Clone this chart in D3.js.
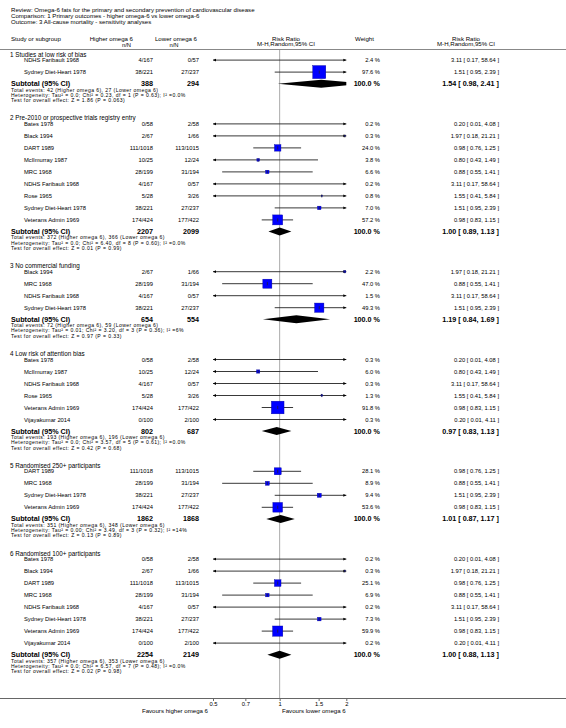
<!DOCTYPE html>
<html><head><meta charset="utf-8">
<script src="https://cdn.jsdelivr.net/npm/d3@7"></script>
<style>html,body{margin:0;padding:0;background:#fff}svg{display:block;font-family:"Liberation Sans",Arial,sans-serif}</style>
</head><body>
<svg id="c" width="566" height="728"></svg>
<script>
// ---------- data ----------
const titleLines = [
  "Review:  Omega-6 fats for the primary and secondary prevention of cardiovascular disease",
  "Comparison:  1 Primary outcomes - higher omega-6 vs lower omega-6",
  "Outcome:  3 All-cause mortality - sensitivity analyses"
];
const groupTitles = [
  "1 Studies at low risk of bias",
  "2 Pre-2010 or prospective trials registry entry",
  "3 No commercial funding",
  "4 Low risk of attention bias",
  "5 Randomised 250+ participants",
  "6 Randomised 100+ participants"
];
const studyGroup = [0,0, 1,1,1,1,1,1,1,1,1, 2,2,2,2, 3,3,3,3,3,3, 4,4,4,4, 5,5,5,5,5,5,5,5];
const studyName = [
  "NDHS Faribault 1968","Sydney Diet-Heart 1978",
  "Bates 1978","Black 1994","DART 1989","McIlmurray 1987","MRC 1968","NDHS Faribault 1968","Rose 1965","Sydney Diet-Heart 1978","Veterans Admin 1969",
  "Black 1994","MRC 1968","NDHS Faribault 1968","Sydney Diet-Heart 1978",
  "Bates 1978","McIlmurray 1987","NDHS Faribault 1968","Rose 1965","Veterans Admin 1969","Vijayakumar 2014",
  "DART 1989","MRC 1968","Sydney Diet-Heart 1978","Veterans Admin 1969",
  "Bates 1978","Black 1994","DART 1989","MRC 1968","NDHS Faribault 1968","Sydney Diet-Heart 1978","Veterans Admin 1969","Vijayakumar 2014"
];
const highNN = ["4/167","38/221", "0/58","2/67","111/1018","10/25","28/199","4/167","5/28","38/221","174/424",
  "2/67","28/199","4/167","38/221", "0/58","10/25","4/167","5/28","174/424","0/100",
  "111/1018","28/199","38/221","174/424", "0/58","2/67","111/1018","28/199","4/167","38/221","174/424","0/100"];
const lowNN = ["0/57","27/237", "2/58","1/66","113/1015","12/24","31/194","0/57","3/26","27/237","177/422",
  "1/66","31/194","0/57","27/237", "2/58","12/24","0/57","3/26","177/422","2/100",
  "113/1015","31/194","27/237","177/422", "2/58","1/66","113/1015","31/194","0/57","27/237","177/422","2/100"];
const weight = [2.4,97.6, 0.2,0.3,24.0,3.8,6.6,0.2,0.8,7.0,57.2, 2.2,47.0,1.5,49.3, 0.3,6.0,0.3,1.3,91.8,0.3,
  28.1,8.9,9.4,53.6, 0.2,0.3,25.1,6.9,0.2,7.3,59.9,0.2];
const rr = [3.11,1.51, 0.20,1.97,0.98,0.80,0.88,3.11,1.55,1.51,0.98, 1.97,0.88,3.11,1.51, 0.20,0.80,3.11,1.55,0.98,0.20,
  0.98,0.88,1.51,0.98, 0.20,1.97,0.98,0.88,3.11,1.51,0.98,0.20];
const ciLow = [0.17,0.95, 0.01,0.18,0.76,0.43,0.55,0.17,0.41,0.95,0.83, 0.18,0.55,0.17,0.95, 0.01,0.43,0.17,0.41,0.83,0.01,
  0.76,0.55,0.95,0.83, 0.01,0.18,0.76,0.55,0.17,0.95,0.83,0.01];
const ciHigh = [58.64,2.39, 4.08,21.21,1.25,1.49,1.41,58.64,5.84,2.39,1.15, 21.21,1.41,58.64,2.39, 4.08,1.49,58.64,5.84,1.15,4.11,
  1.25,1.41,2.39,1.15, 4.08,21.21,1.25,1.41,58.64,2.39,1.15,4.11];
const subHighN = [388,2207,654,802,1862,2254];
const subLowN = [294,2099,554,687,1868,2149];
const subRR = [1.54,1.00,1.19,0.97,1.01,1.00];
const subLow = [0.98,0.89,0.84,0.83,0.87,0.88];
const subHigh = [2.41,1.13,1.69,1.13,1.17,1.13];
const totalEvents = [
  "Total events: 42 (Higher omega 6), 27 (Lower omega 6)",
  "Total events: 372 (Higher omega 6), 366 (Lower omega 6)",
  "Total events: 72 (Higher omega 6), 59 (Lower omega 6)",
  "Total events: 193 (Higher omega 6), 196 (Lower omega 6)",
  "Total events: 351 (Higher omega 6), 348 (Lower omega 6)",
  "Total events: 357 (Higher omega 6), 353 (Lower omega 6)"
];
const heterogeneity = [
  "Heterogeneity: Tau² = 0.0; Chi² = 0.23, df = 1 (P = 0.63); I² =0.0%",
  "Heterogeneity: Tau² = 0.0; Chi² = 6.40, df = 8 (P = 0.60); I² =0.0%",
  "Heterogeneity: Tau² = 0.01; Chi² = 3.20, df = 3 (P = 0.36); I² =6%",
  "Heterogeneity: Tau² = 0.0; Chi² = 3.57, df = 5 (P = 0.61); I² =0.0%",
  "Heterogeneity: Tau² = 0.00; Chi² = 3.49, df = 3 (P = 0.32); I² =14%",
  "Heterogeneity: Tau² = 0.0; Chi² = 6.57, df = 7 (P = 0.48); I² =0.0%"
];
const overallTest = [
  "Test for overall effect: Z = 1.86 (P = 0.063)",
  "Test for overall effect: Z = 0.01 (P = 0.99)",
  "Test for overall effect: Z = 0.97 (P = 0.33)",
  "Test for overall effect: Z = 0.42 (P = 0.68)",
  "Test for overall effect: Z = 0.13 (P = 0.89)",
  "Test for overall effect: Z = 0.02 (P = 0.98)"
];
const tickValues = [0.5, 0.7, 1, 1.5, 2];
const favoursLeft = "Favours higher omega 6";
const favoursRight = "Favours lower omega 6";

// ---------- layout ----------
const svg = d3.select("#c");
const x = d3.scaleLog().domain([0.5, 2]).range([213, 346.3]);
const FS = 5.8, FST = 6.1, FSH = 6.3, FSB = 7.2, FSN = 5.1;
const colName = 24, colLeft = 11, colHighR = 153, colLowR = 199, colWR = 380, colRRR = 499;
const fmt2 = d3.format(".2f"), fmt1 = d3.format(".1f");

function txt(g, xx, yy, s, size, anchor, bold, ls) {
  const t = g.append("text").attr("x", xx).attr("y", yy + size * 0.36)
    .attr("font-size", size).attr("text-anchor", anchor || "start")
    .attr("font-weight", bold ? "bold" : null).attr("fill", "#000").text(s);
  if (ls) t.attr("letter-spacing", ls);
  return t;
}

// title
titleLines.forEach((t, i) => txt(svg, colLeft, 9.5 + i * 6, t, FST));
// header
txt(svg, colLeft, 39, "Study or subgroup", FST);
txt(svg, 133, 39, "Higher omega 6", FST, "end");
txt(svg, 131, 44.5, "n/N", FS, "end");
txt(svg, 176, 39, "Lower omega 6", FST, "middle");
txt(svg, 174, 44.5, "n/N", FS, "middle");
txt(svg, 286, 38.5, "Risk Ratio", FST, "middle");
txt(svg, 286, 44, "M-H,Random,95% CI", FST, "middle");
txt(svg, 355, 38.5, "Weight", FST);
txt(svg, 466, 38.5, "Risk Ratio", FST, "middle");
txt(svg, 466, 44, "M-H,Random,95% CI", FST, "middle");
svg.append("line").attr("x1", 0).attr("x2", 566).attr("y1", 49.5).attr("y2", 49.5)
  .attr("stroke", "#888").attr("stroke-width", 1);

// null line
const axisY = 698;
svg.append("line").attr("x1", x(1)).attr("x2", x(1)).attr("y1", 50).attr("y2", axisY)
  .attr("stroke", "#aaa").attr("stroke-width", 1);

// clip for plot region
svg.append("clipPath").attr("id", "pc").append("rect")
  .attr("x", x.range()[0]).attr("y", 0).attr("width", x.range()[1] - x.range()[0]).attr("height", 728);

const plot = svg.append("g");
const marks = svg.append("g").attr("clip-path", "url(#pc)");

let y = 54.3;
groupTitles.forEach((gt, gi) => {
  txt(svg, colLeft - 1, y, gt, FSH);
  let sy = y + 5.8;
  const idx = studyGroup.map((g, i) => g === gi ? i : -1).filter(i => i >= 0);
  idx.forEach((i, k) => {
    const yy = sy + k * 12;
    txt(svg, colName, yy, studyName[i], FS);
    txt(svg, colHighR, yy, highNN[i], FS, "end");
    txt(svg, colLowR, yy, lowNN[i], FS, "end");
    txt(svg, colWR, yy, fmt1(weight[i]) + " %", FS, "end");
    txt(svg, colRRR, yy, `${fmt2(rr[i])} [ ${fmt2(ciLow[i])}, ${fmt2(ciHigh[i])} ]`, FS, "end");
    // CI line
    const [d0, d1] = x.domain();
    const lx = x(Math.max(ciLow[i], d0)), hx = x(Math.min(ciHigh[i], d1));
    plot.append("line").attr("x1", lx).attr("x2", hx).attr("y1", yy).attr("y2", yy)
      .attr("stroke", "#222").attr("stroke-width", 0.9);
    if (ciLow[i] < d0) plot.append("path")
      .attr("d", `M${lx},${yy} l3,-1.4 l0,2.8 Z`).attr("fill", "#000");
    if (ciHigh[i] > d1) plot.append("path")
      .attr("d", `M${hx},${yy} l-3,-1.4 l0,2.8 Z`).attr("fill", "#000");
    const s = 1.32 * Math.sqrt(weight[i]);
    const cx = x(rr[i]);
    marks.append("rect").attr("x", cx - s / 2).attr("y", yy - s / 2).attr("width", s).attr("height", s)
      .attr("fill", "#0000ff").attr("stroke", "#00009a").attr("stroke-width", 0.4);
    marks.append("line").attr("x1", cx).attr("x2", cx).attr("y1", yy - 1.6).attr("y2", yy + 1.6)
      .attr("stroke", "#222").attr("stroke-width", 0.7);
  });
  const subY = sy + (idx.length - 1) * 12 + 11.6;
  txt(svg, colLeft, subY, "Subtotal (95% CI)", FSB, "start", true);
  txt(svg, colHighR, subY, subHighN[gi], FSB, "end", true);
  txt(svg, colLowR, subY, subLowN[gi], FSB, "end", true);
  txt(svg, colWR, subY, "100.0 %", FSB, "end", true);
  txt(svg, colRRR, subY, `${fmt2(subRR[gi])} [ ${fmt2(subLow[gi])}, ${fmt2(subHigh[gi])} ]`, FSB, "end", true);
  const a = x(subLow[gi]), m = x(subRR[gi]), b = x(subHigh[gi]);
  marks.append("path").attr("d", `M${a},${subY} L${m},${subY - 4} L${b},${subY} L${m},${subY + 4} Z`)
    .attr("fill", "#000");
  txt(svg, colLeft, subY + 6.0, totalEvents[gi], FSN, "start", false, 0.42);
  txt(svg, colLeft, subY + 11.3, heterogeneity[gi], FSN, "start", false, 0.42);
  txt(svg, colLeft, subY + 16.6, overallTest[gi], FSN, "start", false, 0.42);
  y = subY + 16.6 + 17.8;
});

// axis
svg.append("line").attr("x1", 0).attr("x2", 566).attr("y1", axisY + 0.5).attr("y2", axisY + 0.5)
  .attr("stroke", "#666").attr("stroke-width", 1);
const ax = svg.append("g").attr("transform", `translate(0,${axisY + 0.5})`)
  .call(d3.axisBottom(x).tickValues(tickValues).tickFormat(d => String(d)).tickSize(2.5).tickPadding(1));
ax.select(".domain").remove();
ax.selectAll(".tick line").attr("stroke", "#666");
ax.selectAll(".tick text").attr("font-size", FS).attr("font-family", "Liberation Sans, Arial, sans-serif").attr("fill", "#000");
txt(svg, 208, 711, favoursLeft, FST, "end");
txt(svg, 282, 711, favoursRight, FST, "start");
</script>
</body></html>
